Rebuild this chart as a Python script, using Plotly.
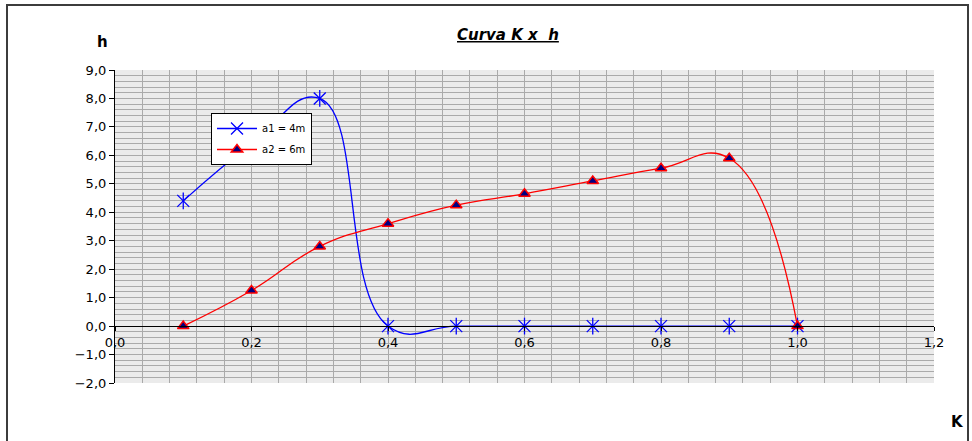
import plotly.graph_objects as go

# K values (x) and h values for each spacing
k_a1 = [0.1, 0.2, 0.3, 0.4, 0.5, 0.6, 0.7, 0.8, 0.9, 1.0]
h_a1 = [4.4, 6.4, 8.0, 0.0, 0.0, 0.0, 0.0, 0.0, 0.0, 0.0]

k_a2 = [0.1, 0.2, 0.3, 0.4, 0.5, 0.6, 0.7, 0.8, 0.9, 1.0]
h_a2 = [0.0, 1.25, 2.8, 3.6, 4.25, 4.65, 5.1, 5.55, 5.9, 0.0]

series_names = ["a1 = 4m", "a2 = 6m"]

W, H = 972, 441
ML, MR, MT, MB = 115, 38, 70, 58
PW, PH = W - ML - MR, H - MT - MB


def px_x(px):
    return (px - ML) / PW


def px_y(py):
    return (H - MB - py) / PH


FONT = "DejaVu Sans"
GRID = "#aaaaaa"

fig = go.Figure()

fig.add_trace(go.Scatter(
    x=k_a1, y=h_a1, name=series_names[0], legendgroup="a1",
    mode="lines+markers",
    line=dict(color="#0000ff", width=1.3, shape="spline", smoothing=1.3),
    marker=dict(symbol="x-thin-open", size=12, color="#0000ff",
                line=dict(color="#0000ff", width=1.3)),
))
# vertical stroke completing the star marker
fig.add_trace(go.Scatter(
    x=k_a1, y=h_a1, mode="markers", showlegend=False, hoverinfo="skip",
    marker=dict(symbol="line-ns-open", size=12, color="#0000ff",
                line=dict(color="#0000ff", width=1.3)),
))
fig.add_trace(go.Scatter(
    x=k_a2, y=h_a2, name=series_names[1], legendgroup="a2",
    mode="lines+markers",
    line=dict(color="#ff0000", width=1.3, shape="spline", smoothing=1.3),
    marker=dict(symbol="triangle-up", size=10, color="#000080",
                line=dict(color="#ff0000", width=1.5)),
))

fig.update_layout(
    width=W, height=H, autosize=False,
    margin=dict(l=ML, r=MR, t=MT, b=MB, pad=0),
    paper_bgcolor="white", plot_bgcolor="#ebebeb",
    separators=", ",
    font=dict(family=FONT, color="#000000", size=13),
    legend=dict(
        x=px_x(211), y=px_y(113), xanchor="left", yanchor="top",
        bgcolor="white", bordercolor="#000000", borderwidth=1,
        font=dict(family=FONT, size=10, color="#000000"),
        tracegroupgap=2, itemwidth=40,
    ),
    xaxis=dict(
        range=[0, 1.2], tick0=0, dtick=0.2, tickformat=".1f",
        showgrid=True, gridcolor=GRID, gridwidth=1.4,
        minor=dict(dtick=0.04, showgrid=True, gridcolor=GRID, gridwidth=1.4),
        showline=True, linecolor="#000000", linewidth=1.2,
        anchor="free", position=2 / 11,
        ticks="outside", ticklen=4, tickcolor="#000000", tickwidth=1,
        zeroline=False, tickfont=dict(family=FONT, size=13),
    ),
    yaxis=dict(
        range=[-2, 9], tick0=0, dtick=1, tickformat=".1f",
        showgrid=True, gridcolor=GRID, gridwidth=1,
        minor=dict(dtick=0.2, showgrid=True, gridcolor=GRID, gridwidth=1),
        showline=True, linecolor="#000000", linewidth=1.2,
        ticks="outside", ticklen=5, tickcolor="#000000", tickwidth=1,
        zeroline=False, tickfont=dict(family=FONT, size=13),
    ),
    shapes=[dict(
        type="rect", xref="paper", yref="paper",
        x0=px_x(7), x1=px_x(968), y0=px_y(450), y1=px_y(5),
        line=dict(color="#3c3c3c", width=2), fillcolor="rgba(0,0,0,0)",
    )],
    annotations=[
        dict(text="<b><i><u>Curva K x  h</u></i></b>", xref="paper", yref="paper",
             x=px_x(508), y=px_y(35), xanchor="center", yanchor="middle",
             showarrow=False, font=dict(family=FONT, size=15)),
        dict(text="<b>h</b>", xref="paper", yref="paper",
             x=px_x(102), y=px_y(42), xanchor="center", yanchor="middle",
             showarrow=False, font=dict(family=FONT, size=15)),
        dict(text="<b>K</b>", xref="paper", yref="paper",
             x=px_x(958), y=px_y(422), xanchor="center", yanchor="middle",
             showarrow=False, font=dict(family=FONT, size=15)),
    ],
)

fig.write_html("out.html")
